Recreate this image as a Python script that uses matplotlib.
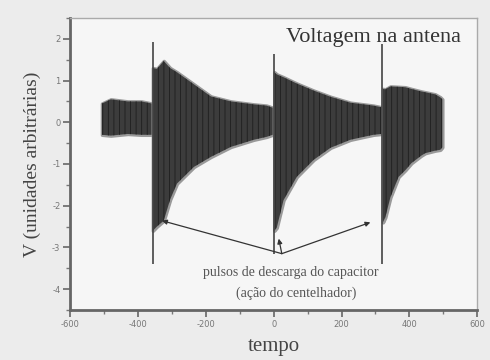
import matplotlib
matplotlib.use("Agg")
import matplotlib.pyplot as plt
from matplotlib.ticker import MultipleLocator

# envelope of the antenna signal, one block per burst
burst_a_t = [-506, -480, -430, -390, -359]
burst_a_hi = [0.45, 0.55, 0.5, 0.5, 0.45]
burst_a_lo = [-0.3, -0.32, -0.28, -0.3, -0.3]

burst_b_t = [-356, -344, -324, -305, -285, -235, -185, -126, -59, -21, -3]
burst_b_hi = [1.3, 1.28, 1.47, 1.3, 1.2, 0.91, 0.62, 0.5, 0.43, 0.4, 0.35]
burst_b_lo = [-2.6, -2.5, -2.36, -1.85, -1.47, -1.07, -0.83, -0.59, -0.42, -0.35, -0.3]

burst_c_t = [2, 9, 29, 68, 118, 168, 226, 265, 294, 318]
burst_c_hi = [1.2, 1.15, 1.08, 0.93, 0.76, 0.61, 0.47, 0.43, 0.4, 0.36]
burst_c_lo = [-2.6, -2.53, -1.87, -1.31, -0.9, -0.61, -0.42, -0.35, -0.3, -0.28]

burst_d_t = [322, 329, 344, 368, 388, 406, 435, 447, 476, 491, 497]
burst_d_hi = [0.8, 0.79, 0.86, 0.85, 0.84, 0.8, 0.74, 0.72, 0.67, 0.6, 0.55]
burst_d_lo = [-2.4, -2.28, -1.8, -1.31, -1.15, -0.98, -0.8, -0.74, -0.68, -0.66, -0.6]

# capacitor discharge pulses
spike_t = [-356, 0, 320]
spike_hi = [1.93, 1.64, 1.88]
spike_lo = [-3.4, -3.16, -3.4]

# arrows: common tail, three heads
arrow_from = (24, -3.15)
arrow_to = [(-329, -2.36), (15, -2.79), (285, -2.4)]

bursts = [
    (burst_a_t, burst_a_hi, burst_a_lo),
    (burst_b_t, burst_b_hi, burst_b_lo),
    (burst_c_t, burst_c_hi, burst_c_lo),
    (burst_d_t, burst_d_hi, burst_d_lo),
]

plt.rcParams['hatch.linewidth'] = 0.6
plt.rcParams['axes.unicode_minus'] = False
serif = ['Liberation Serif', 'DejaVu Serif']

fig = plt.figure(figsize=(4.9, 3.6), dpi=100, facecolor='#ececec')
ax = fig.add_axes([0.143, 0.139, 0.831, 0.811], facecolor='#f6f6f6')

for t, hi, lo in bursts:
    # soft grey rim first, then the dark striped body
    ax.fill_between(t, lo, hi, facecolor='#777777', edgecolor='#999999',
                    linewidth=2.5)
    ax.fill_between(t, lo, hi, facecolor='#3c3c3c', edgecolor='#1e1e1e',
                    hatch='|||', linewidth=0)

ax.vlines(spike_t, spike_lo, spike_hi, color='#444444', lw=1.2)

for target in arrow_to:
    ax.annotate('', xy=target, xytext=arrow_from,
                arrowprops=dict(arrowstyle='-|>', color='#333333', lw=0.9,
                                mutation_scale=7, shrinkA=0, shrinkB=0))

ax.text(294, 2.03, 'Voltagem na antena', ha='center', va='center',
        fontsize=16, family=serif, color='#333333')
ax.text(50, -3.61, 'pulsos de descarga do capacitor', ha='center', va='center',
        fontsize=10, family=serif, color='#555555')
ax.text(65, -4.1, '(ação do centelhador)', ha='center', va='center',
        fontsize=10, family=serif, color='#555555')

ax.set_xlim(-600, 600)
ax.set_ylim(-4.5, 2.5)
ax.xaxis.set_major_locator(MultipleLocator(200))
ax.xaxis.set_minor_locator(MultipleLocator(100))
ax.yaxis.set_major_locator(MultipleLocator(1))
ax.yaxis.set_minor_locator(MultipleLocator(0.5))
ax.tick_params(which='major', length=5, width=1.2, color='#666666',
               labelsize=6, labelcolor='#777777', pad=2)
ax.tick_params(which='minor', length=3, width=1, color='#777777')

ax.set_ylabel('V (unidades arbitrárias)', fontsize=14, family=serif,
              color='#444444', labelpad=8)
ax.set_xlabel('tempo', fontsize=15, family=serif, color='#444444', labelpad=6)

for side in ('left', 'bottom'):
    ax.spines[side].set_color('#666666')
    ax.spines[side].set_linewidth(2)
for side in ('top', 'right'):
    ax.spines[side].set_color('#aaaaaa')
    ax.spines[side].set_linewidth(1)

fig.savefig('out.png', dpi=100, facecolor=fig.get_facecolor())
